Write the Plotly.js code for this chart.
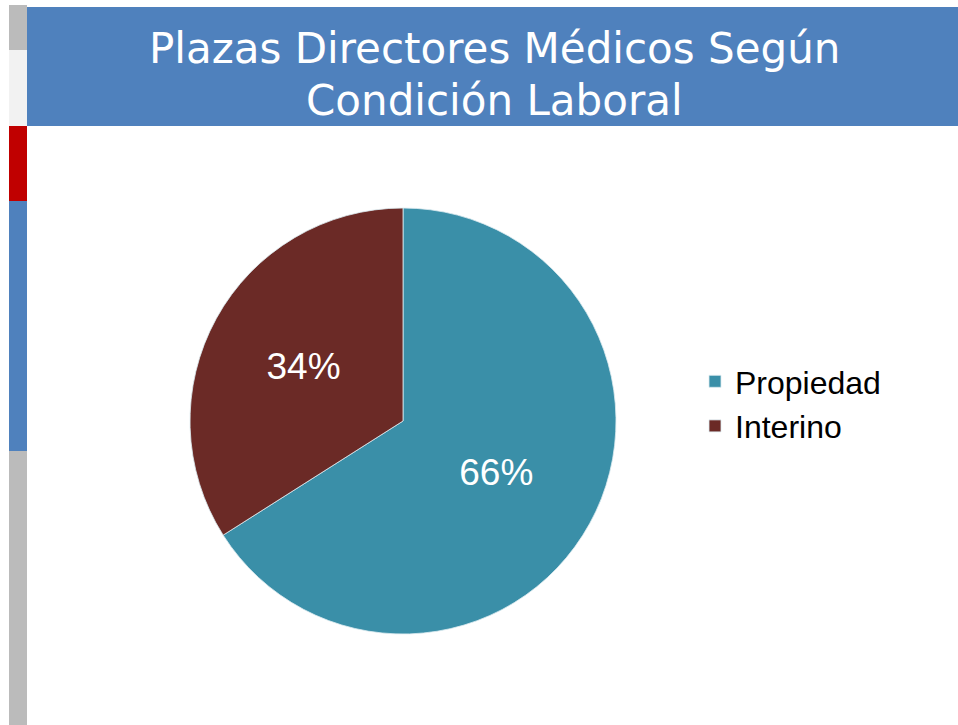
<!DOCTYPE html>
<html>
<head>
<meta charset="utf-8">
<script src="https://cdn.plot.ly/plotly-3.0.1.min.js"></script>
<style>html,body{margin:0;padding:0;background:#fff;} #chart{width:958px;height:725px;}</style>
</head>
<body>
<div id="chart"></div>
<script>
const categories = ["Propiedad", "Interino"];
const values = [66, 34];
const sliceColors = ["#3A8FA8", "#6B2A26"];
const titleLines = ["Plazas Directores Médicos Según", "Condición Laboral"];

const trace = {
  type: "pie",
  labels: categories,
  values: values,
  sort: false,
  direction: "clockwise",
  rotation: 0,
  marker: {colors: sliceColors, line: {color: "rgba(220,235,240,0.8)", width: 1}},
  textinfo: "percent",
  texttemplate: "%{percent:.0%}",
  textposition: "inside",
  insidetextorientation: "horizontal",
  textfont: {family: "Liberation Sans, Arial, sans-serif", size: 37, color: "#ffffff"},
  domain: {x: [190/958, 616/958], y: [1 - 634/725, 1 - 208/725]},
  hoverinfo: "label+percent"
};

const layout = {
  width: 958, height: 725,
  margin: {l: 0, r: 0, t: 0, b: 0},
  paper_bgcolor: "#ffffff",
  showlegend: true,
  legend: {
    x: 695/958, y: 1 - 404/725, xanchor: "left", yanchor: "middle",
    font: {family: "Liberation Sans, Arial, sans-serif", size: 32, color: "#000000"},
    bgcolor: "rgba(0,0,0,0)",
    itemwidth: 30
  },
  shapes: [
    {type: "rect", xref: "paper", yref: "paper", x0: 9/958, x1: 27/958, y0: 1 - 5/725, y1: 1 - 50/725, fillcolor: "#BBBBBB", line: {width: 0}},
    {type: "rect", xref: "paper", yref: "paper", x0: 9/958, x1: 27/958, y0: 1 - 50/725, y1: 1 - 126/725, fillcolor: "#F2F2F2", line: {width: 0}},
    {type: "rect", xref: "paper", yref: "paper", x0: 9/958, x1: 27/958, y0: 1 - 126/725, y1: 1 - 201/725, fillcolor: "#C00000", line: {width: 0}},
    {type: "rect", xref: "paper", yref: "paper", x0: 9/958, x1: 27/958, y0: 1 - 201/725, y1: 1 - 451/725, fillcolor: "#4F81BD", line: {width: 0}},
    {type: "rect", xref: "paper", yref: "paper", x0: 9/958, x1: 27/958, y0: 1 - 451/725, y1: 0, fillcolor: "#BBBBBB", line: {width: 0}},
    {type: "rect", xref: "paper", yref: "paper", x0: 27/958, x1: 1, y0: 1 - 7/725, y1: 1 - 126/725, fillcolor: "#4F81BD", line: {width: 0}}
  ],
  annotations: [
    {xref: "paper", yref: "paper", x: 494/958, y: 1 - 48/725, text: titleLines[0], showarrow: false,
     font: {family: "DejaVu Sans, Verdana, sans-serif", size: 42, color: "#ffffff"}, xanchor: "center", yanchor: "middle"},
    {xref: "paper", yref: "paper", x: 494/958, y: 1 - 100/725, text: titleLines[1], showarrow: false,
     font: {family: "DejaVu Sans, Verdana, sans-serif", size: 42, color: "#ffffff"}, xanchor: "center", yanchor: "middle"}
  ]
};

Plotly.newPlot("chart", [trace], layout, {displayModeBar: false, staticPlot: true});
</script>
</body>
</html>
